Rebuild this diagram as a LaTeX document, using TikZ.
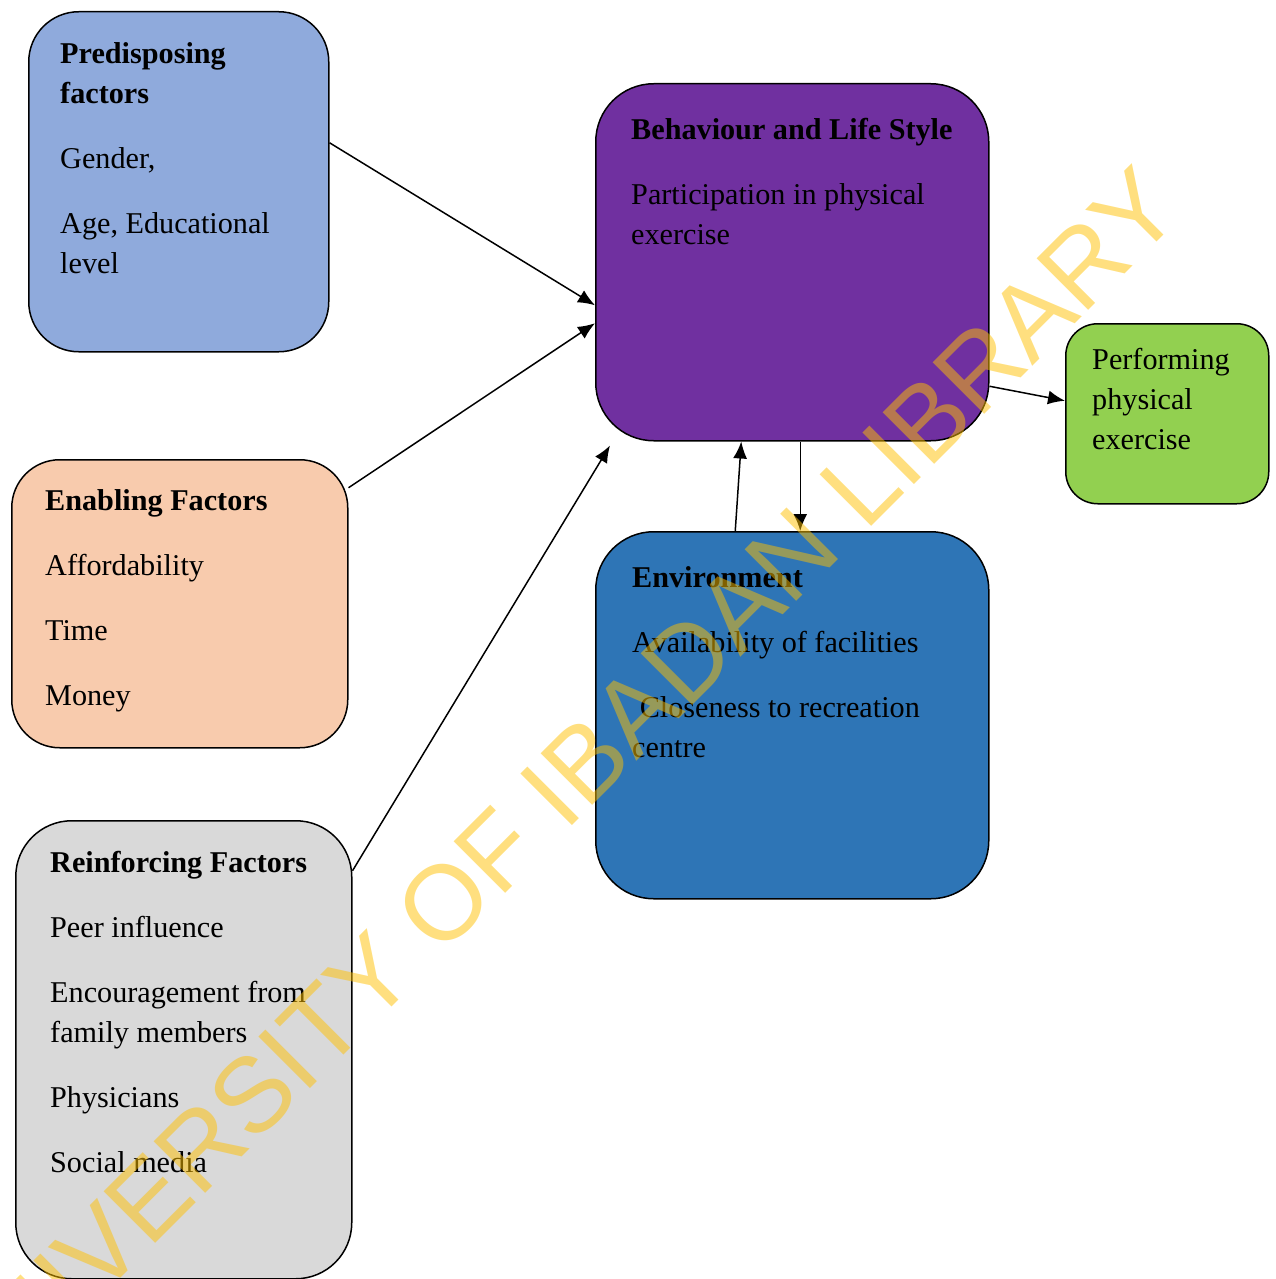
\documentclass[tikz,border=0pt]{standalone}
\usepackage{fontspec}
\setmainfont{Liberation Serif}
\newfontfamily\markfont{Liberation Sans}
\usetikzlibrary{arrows.meta,calc,positioning}
\definecolor{predColor}{HTML}{8FAADC}
\definecolor{enabColor}{HTML}{F8CBAD}
\definecolor{reinfColor}{HTML}{D9D9D9}
\definecolor{behavColor}{HTML}{7030A0}
\definecolor{perfColor}{HTML}{92D050}
\definecolor{envColor}{HTML}{2E75B6}
\definecolor{markColor}{HTML}{FFC000}
\newcommand{\firstline}{\rule{0pt}{30pt}}

\begin{document}
\begin{tikzpicture}[
  x=1pt, y=-1pt,
  >=Latex,
  factor/.style={
    draw=black,
    line width=1.5pt,
    rounded corners=48pt,
    anchor=north west,
    inner sep=0pt
  },
  boxtext/.style={
    anchor=north west,
    inner sep=0pt,
    align=left,
    text=black,
    font=\fontsize{30.2}{40}\selectfont
  },
  link/.style={-{Latex[length=17pt,width=14pt]}, draw=black, line width=1.5pt},
  watermark/.style={
    text=markColor,
    text opacity=0.5,
    rotate=45,
    inner sep=0pt,
    font=\markfont\fontsize{106}{106}\selectfont
  }
]
\useasboundingbox (0,0) rectangle (1276,1279);

% The three groups of factors on the left.
\node[factor, fill=predColor, minimum width=300pt, minimum height=340pt,
      rounded corners=50pt] (pred) at (28,11) {};
\node[factor, fill=enabColor, minimum width=336pt, minimum height=288pt] (enab) at (11,459) {};
\node[factor, fill=reinfColor, minimum width=336pt, minimum height=458pt,
      rounded corners=56pt] (reinf) at (15,820) {};

% Behaviour, its outcome and the environment.
\node[factor, fill=behavColor, minimum width=393pt, minimum height=357pt,
      rounded corners=58pt] (behav) at (595,83) {};
\node[factor, fill=perfColor, minimum width=203pt, minimum height=180pt,
      rounded corners=32pt] (perf) at (1065,323) {};
\node[factor, fill=envColor, minimum width=393pt, minimum height=367pt,
      rounded corners=58pt] (env) at (595,531) {};

% Texts inside the boxes.
\node[boxtext] (pred-text) at ($(pred.north west)+(32,22)$)
  {\firstline\textbf{Predisposing}\\ \textbf{factors}\\[25pt] Gender,\\[25pt]
   Age, Educational\\ level};
\node[boxtext] (enab-text) at ($(enab.north west)+(34,21)$)
  {\firstline\textbf{Enabling Factors}\\[25pt] Affordability\\[25pt] Time\\[25pt] Money};
\node[boxtext] (reinf-text) at ($(reinf.north west)+(35,22)$)
  {\firstline\textbf{Reinforcing Factors}\\[25pt] Peer influence\\[25pt]
   Encouragement from\\ family members\\[25pt] Physicians\\[25pt] Social media};
\node[boxtext] (behav-text) at ($(behav.north west)+(36,26)$)
  {\firstline\textbf{Behaviour and Life Style}\\[25pt] Participation in physical\\ exercise};
\node[boxtext] (perf-text) at ($(perf.north west)+(27,16)$)
  {\firstline Performing\\ physical\\ exercise};
\node[boxtext] (env-text) at ($(env.north west)+(37,26)$)
  {\firstline\textbf{Environment}\\[25pt] Availability of facilities\\[25pt]
   \ Closeness to recreation\\ centre};

% Factors feeding into behaviour.
\draw[link] ($(pred.east)+(0,-39)$) -- ($(behav.west)+(0,43)$);
\draw[link] ($(enab.east)+(0,-116)$) -- ($(behav.west)+(0,61)$);
\draw[link] ($(reinf.east)+(0,-179)$) -- ($(behav.south west)+(15,4)$);
\draw[link] ($(behav.east)+(0,124)$) -- ($(perf.west)+(0,-13)$);

% Two-way link between behaviour and environment.
\draw[link] ($(env.north)+(-57,0)$) -- ($(behav.south)+(-51,0)$);
\draw[link] ($(behav.south)+(8,0)$) -- ($(env.north)+(8,0)$);

% Library watermark across the page.
\node[watermark] (mark) at (552,795) {UNIVERSITY OF IBADAN LIBRARY};

\end{tikzpicture}
\end{document}
